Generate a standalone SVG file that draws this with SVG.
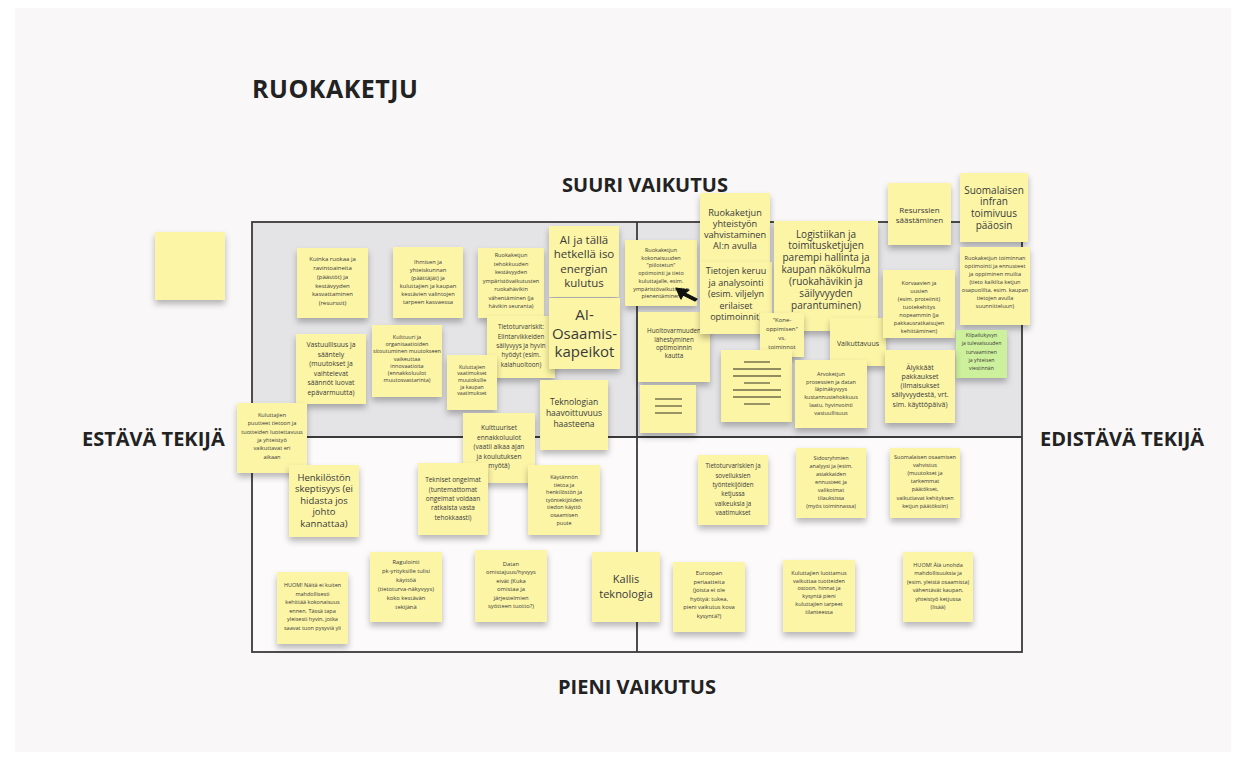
<svg xmlns="http://www.w3.org/2000/svg" width="1244" height="763" viewBox="0 0 1244 763">
<defs>
<filter id="sh" x="-20%" y="-20%" width="140%" height="150%">
<feDropShadow dx="0" dy="4" stdDeviation="3" flood-color="#000" flood-opacity="0.28"/>
</filter>
<style>
.s{fill:#fcf5a6;filter:url(#sh)}
.g{fill:#cdf09c;filter:url(#sh)}
.t{font-family:"Open Sans","Liberation Sans",sans-serif;fill:#3a3a3a;text-anchor:middle}
.hd{font-family:"Open Sans","Liberation Sans",sans-serif;font-weight:700;fill:#222}
.ln{stroke:#3a3a3a;stroke-width:1.8;fill:none}
.bar{stroke:#6e6a48;stroke-width:1.4}
</style>
</defs>
<rect width="1244" height="763" fill="#ffffff"/>
<rect x="15" y="8" width="1216" height="744" fill="#f9f7f7"/>

<g id="matrix">
<rect x="252" y="222" width="770" height="215" fill="#e4e4e7"/>
<rect x="252" y="437" width="770" height="215" fill="#fcfafa"/>
<rect class="ln" x="252" y="222" width="770" height="430"/>
<line class="ln" x1="637" y1="222" x2="637" y2="652"/>
<line class="ln" x1="252" y1="437" x2="1022" y2="437"/>
</g>

<g id="labels">
<text class="hd" x="252" y="98" font-size="25" letter-spacing="0.5">RUOKAKETJU</text>
<text class="hd" x="645" y="192" font-size="20" text-anchor="middle">SUURI VAIKUTUS</text>
<text class="hd" x="637" y="694" font-size="20" text-anchor="middle">PIENI VAIKUTUS</text>
<text class="hd" x="82" y="446" font-size="20">ESTÄVÄ TEKIJÄ</text>
<text class="hd" x="1040" y="446" font-size="20">EDISTÄVÄ TEKIJÄ</text>
</g>

<g id="n0"><rect class="s" x="155" y="232" width="70" height="68"/></g>

<g id="n1"><rect class="s" x="297" y="248" width="71" height="70"/>
<text class="t" font-size="6" x="332.5" y="261.4"><tspan x="332.5">Kuinka ruokaa ja</tspan><tspan x="332.5" dy="8.7">ravintoaineita</tspan><tspan x="332.5" dy="8.7">(päästöt) ja</tspan><tspan x="332.5" dy="8.7">kestävyyden</tspan><tspan x="332.5" dy="8.7">kasvattaminen</tspan><tspan x="332.5" dy="8.7">(resurssit)</tspan></text></g>

<g id="n2"><rect class="s" x="393" y="247" width="70" height="71"/>
<text class="t" font-size="5.8" x="428" y="263.8"><tspan x="428">Ihmisen ja</tspan><tspan x="428" dy="8">yhteiskunnan</tspan><tspan x="428" dy="8">(päättäjät) ja</tspan><tspan x="428" dy="8">kuluttajien ja kaupan</tspan><tspan x="428" dy="8">kestävien valintojen</tspan><tspan x="428" dy="8">tarpeen kasvaessa</tspan></text></g>

<g id="n3"><rect class="s" x="478" y="248" width="66" height="70"/>
<text class="t" font-size="5.6" x="511" y="257"><tspan x="511">Ruokaketjun</tspan><tspan x="511" dy="8.5">tehokkuuden</tspan><tspan x="511" dy="8.5">kestävyyden</tspan><tspan x="511" dy="8.5">ympäristövaikutusten</tspan><tspan x="511" dy="8.5">ruokahävikin</tspan><tspan x="511" dy="8.5">vähentäminen (ja</tspan><tspan x="511" dy="8.5">hävikin seuranta)</tspan></text></g>

<g id="n4"><rect class="s" x="549" y="226" width="70" height="71"/>
<text class="t" font-size="11.5" x="584" y="244"><tspan x="584">AI ja tällä</tspan><tspan x="584" dy="14.3">hetkellä iso</tspan><tspan x="584" dy="14.3">energian</tspan><tspan x="584" dy="14.3">kulutus</tspan></text></g>

<g id="n5"><rect class="s" x="625" y="240" width="72" height="66"/>
<text class="t" font-size="5.5" x="661" y="252"><tspan x="661">Ruokaketjun</tspan><tspan x="661" dy="7.7">kokonaisuuden</tspan><tspan x="661" dy="7.7">"piilotetun"</tspan><tspan x="661" dy="7.7">optimointi ja tieto</tspan><tspan x="661" dy="7.7">kuluttajalle, esim.</tspan><tspan x="661" dy="7.7">ympäristövaikutusten</tspan><tspan x="661" dy="7.7">pienentäminen</tspan></text></g>

<g id="n20"><rect class="s" x="638" y="312" width="72" height="70"/>
<text class="t" font-size="6.3" x="674" y="333.2"><tspan x="674">Huoltovarmuuden</tspan><tspan x="674" dy="8.3">lähestyminen</tspan><tspan x="674" dy="8.3">optimoinnin</tspan><tspan x="674" dy="8.3">kautta</tspan></text></g>

<g id="n6"><rect class="s" x="700" y="193" width="70" height="70"/>
<text class="t" font-size="9.2" x="735" y="215.5"><tspan x="735">Ruokaketjun</tspan><tspan x="735" dy="11.3">yhteistyön</tspan><tspan x="735" dy="11.3">vahvistaminen</tspan><tspan x="735" dy="11.3">AI:n avulla</tspan></text></g>

<g id="n7"><rect class="s" x="700" y="262" width="72" height="72"/>
<text class="t" font-size="9" x="736" y="274.3"><tspan x="736">Tietojen keruu</tspan><tspan x="736" dy="11.5">ja analysointi</tspan><tspan x="736" dy="11.5">(esim. viljelyn</tspan><tspan x="736" dy="11.5">erilaiset</tspan><tspan x="736" dy="11.5">optimoinnit)</tspan></text></g>

<g id="n8"><rect class="s" x="774" y="221" width="104" height="110"/>
<text class="t" font-size="10" x="826" y="237.5"><tspan x="826">Logistiikan ja</tspan><tspan x="826" dy="11.9">toimitusketjujen</tspan><tspan x="826" dy="11.9">parempi hallinta ja</tspan><tspan x="826" dy="11.9">kaupan näkökulma</tspan><tspan x="826" dy="11.9">(ruokahävikin ja</tspan><tspan x="826" dy="11.9">säilyvyyden</tspan><tspan x="826" dy="11.9">parantuminen)</tspan></text></g>

<g id="n14"><rect class="s" x="830" y="318" width="56" height="48"/>
<text class="t" font-size="7" x="858" y="345.5">Vaikuttavuus</text></g>

<g id="n16"><rect class="s" x="760" y="313" width="44" height="44"/>
<text class="t" font-size="6" x="782" y="322"><tspan x="782">"Kone-</tspan><tspan x="782" dy="9">oppimisen"</tspan><tspan x="782" dy="9">vs.</tspan><tspan x="782" dy="9">toiminnot</tspan></text></g>

<g id="n9"><rect class="s" x="888" y="183" width="63" height="62"/>
<text class="t" font-size="8" x="919.5" y="213.3"><tspan x="919.5">Resurssien</tspan><tspan x="919.5" dy="9.5">säästäminen</tspan></text></g>

<g id="n10"><rect class="s" x="960" y="173" width="68" height="69"/>
<text class="t" font-size="10" x="994" y="193.5"><tspan x="994">Suomalaisen</tspan><tspan x="994" dy="11.7">infran</tspan><tspan x="994" dy="11.7">toimivuus</tspan><tspan x="994" dy="11.7">pääosin</tspan></text></g>

<g id="n11"><rect class="s" x="960" y="247" width="70" height="78"/>
<text class="t" font-size="5.6" x="995" y="260"><tspan x="995">Ruokaketjun toiminnan</tspan><tspan x="995" dy="8">optimointi ja ennusteet</tspan><tspan x="995" dy="8">ja oppiminen muilta</tspan><tspan x="995" dy="8">(tieto kaikilta ketjun</tspan><tspan x="995" dy="8">osapuolilta, esim. kaupan</tspan><tspan x="995" dy="8">tietojen avulla</tspan><tspan x="995" dy="8">suunnitteluun)</tspan></text></g>

<g id="n12"><rect class="s" x="883" y="270" width="72" height="68"/>
<text class="t" font-size="5.6" x="919" y="285"><tspan x="919">Korvaavien ja</tspan><tspan x="919" dy="8">uusien</tspan><tspan x="919" dy="8">(esim. proteiinit)</tspan><tspan x="919" dy="8">tuotekehitys</tspan><tspan x="919" dy="8">nopeammin (ja</tspan><tspan x="919" dy="8">pakkausratkaisujen</tspan><tspan x="919" dy="8">kehittäminen)</tspan></text></g>

<g id="n13"><rect class="g" x="956" y="330" width="51" height="48"/>
<text class="t" font-size="5.2" x="981.5" y="337"><tspan x="981.5">Kilpailukyvyn</tspan><tspan x="981.5" dy="8.3">ja tulevaisuuden</tspan><tspan x="981.5" dy="8.3">turvaaminen</tspan><tspan x="981.5" dy="8.3">ja yhteisen</tspan><tspan x="981.5" dy="8.3">viestinnän</tspan></text></g>

<g id="n15"><rect class="s" x="885" y="350" width="70" height="73"/>
<text class="t" font-size="7" x="920" y="369.5"><tspan x="920">Älykkäät</tspan><tspan x="920" dy="9.3">pakkaukset</tspan><tspan x="920" dy="9.3">(ilmaisukset</tspan><tspan x="920" dy="9.3">säilyvyydestä, vrt.</tspan><tspan x="920" dy="9.3">sim. käyttöpäivä)</tspan></text></g>

<g id="n17"><rect class="s" x="721" y="350" width="71" height="72"/>
<line class="bar" x1="744" y1="362" x2="770" y2="362"/>
<line class="bar" x1="733" y1="369" x2="781" y2="369"/>
<line class="bar" x1="733" y1="376" x2="781" y2="376"/>
<line class="bar" x1="744" y1="383" x2="770" y2="383"/>
<line class="bar" x1="733" y1="390" x2="781" y2="390"/>
<line class="bar" x1="733" y1="397" x2="781" y2="397"/>
<line class="bar" x1="744" y1="404" x2="770" y2="404"/></g>

<g id="n18"><rect class="s" x="640" y="385" width="56" height="48"/>
<line class="bar" x1="655" y1="399" x2="682" y2="399"/>
<line class="bar" x1="655" y1="406" x2="682" y2="406"/>
<line class="bar" x1="655" y1="413" x2="682" y2="413"/></g>

<g id="n19"><rect class="s" x="795" y="360" width="72" height="68"/>
<text class="t" font-size="5.5" x="831" y="376"><tspan x="831">Arvoketjun</tspan><tspan x="831" dy="7.7">prosessien ja datan</tspan><tspan x="831" dy="7.7">läpinäkyvyys</tspan><tspan x="831" dy="7.7">kustannustehokkuus</tspan><tspan x="831" dy="7.7">laatu, hyvinvointi</tspan><tspan x="831" dy="7.7">vastuullisuus</tspan></text></g>

<g id="n21"><rect class="s" x="487" y="316" width="68" height="62"/>
<text class="t" font-size="6.3" x="521" y="329.3"><tspan x="521">Tietoturvariskit:</tspan><tspan x="521" dy="9.3">Elintarvikkeiden</tspan><tspan x="521" dy="9.3">säilyvyys ja hyvin</tspan><tspan x="521" dy="9.3">hyödyt (esim.</tspan><tspan x="521" dy="9.3">kalahuoltoon)</tspan></text></g>

<g id="n22"><rect class="s" x="549" y="298" width="71" height="71"/>
<text class="t" font-size="15" x="584.5" y="320.3"><tspan x="584.5">AI-</tspan><tspan x="584.5" dy="18.3">Osaamis-</tspan><tspan x="584.5" dy="18.3">kapeikot</tspan></text></g>

<g id="n23"><rect class="s" x="296" y="334" width="70" height="70"/>
<text class="t" font-size="6.8" x="331" y="347.4"><tspan x="331">Vastuullisuus ja</tspan><tspan x="331" dy="9.5">sääntely</tspan><tspan x="331" dy="9.5">(muutokset ja</tspan><tspan x="331" dy="9.5">vaihtelevat</tspan><tspan x="331" dy="9.5">säännöt luovat</tspan><tspan x="331" dy="9.5">epävarmuutta)</tspan></text></g>

<g id="n24"><rect class="s" x="372" y="325" width="70" height="72"/>
<text class="t" font-size="5.5" x="407" y="339"><tspan x="407">Kulttuuri ja</tspan><tspan x="407" dy="7.2">organisaatioiden</tspan><tspan x="407" dy="7.2">sitoutuminen muutokseen</tspan><tspan x="407" dy="7.2">vaikeuttaa</tspan><tspan x="407" dy="7.2">innovaatioita</tspan><tspan x="407" dy="7.2">(ennakkoluulot</tspan><tspan x="407" dy="7.2">muutosvastarinta)</tspan></text></g>

<g id="n25"><rect class="s" x="447" y="355" width="50" height="55"/>
<text class="t" font-size="5.2" x="472" y="368.8"><tspan x="472">Kuluttajien</tspan><tspan x="472" dy="6.6">vaatimukset</tspan><tspan x="472" dy="6.6">muutoksille</tspan><tspan x="472" dy="6.6">ja kaupan</tspan><tspan x="472" dy="6.6">vaatimukset</tspan></text></g>

<g id="n26"><rect class="s" x="540" y="380" width="68" height="70"/>
<text class="t" font-size="8.5" x="574" y="405"><tspan x="574">Teknologian</tspan><tspan x="574" dy="11">haavoittuvuus</tspan><tspan x="574" dy="11">haasteena</tspan></text></g>

<g id="n27"><rect class="s" x="237" y="403" width="70" height="70"/>
<text class="t" font-size="5.6" x="272" y="417"><tspan x="272">Kuluttajien</tspan><tspan x="272" dy="8.3">puutteet tietoon ja</tspan><tspan x="272" dy="8.3">tuotteiden luotettavuus</tspan><tspan x="272" dy="8.3">ja yhteistyö</tspan><tspan x="272" dy="8.3">vaikuttavat eri</tspan><tspan x="272" dy="8.3">aikaan</tspan></text></g>

<g id="n28"><rect class="s" x="463" y="413" width="72" height="70"/>
<text class="t" font-size="6.6" x="499" y="430.4"><tspan x="499">Kulttuuriset</tspan><tspan x="499" dy="9.5">ennakkoluulot</tspan><tspan x="499" dy="9.5">(vaatii aikaa ajan</tspan><tspan x="499" dy="9.5">ja koulutuksen</tspan><tspan x="499" dy="9.5">myötä)</tspan></text></g>

<g id="n29"><rect class="s" x="289" y="465" width="70" height="72"/>
<text class="t" font-size="9.5" x="324" y="480.5"><tspan x="324">Henkilöstön</tspan><tspan x="324" dy="11.6">skeptisyys (ei</tspan><tspan x="324" dy="11.6">hidasta jos</tspan><tspan x="324" dy="11.6">johto</tspan><tspan x="324" dy="11.6">kannattaa)</tspan></text></g>

<g id="n30"><rect class="s" x="418" y="463" width="70" height="72"/>
<text class="t" font-size="6.5" x="453" y="482.3"><tspan x="453">Tekniset ongelmat</tspan><tspan x="453" dy="9.3">(tuntemattomat</tspan><tspan x="453" dy="9.3">ongelmat voidaan</tspan><tspan x="453" dy="9.3">ratkaista vasta</tspan><tspan x="453" dy="9.3">tehokkaasti)</tspan></text></g>

<g id="n31"><rect class="s" x="528" y="465" width="72" height="70"/>
<text class="t" font-size="5.5" x="564" y="479"><tspan x="564">Käytännön</tspan><tspan x="564" dy="7.6">tietoa ja</tspan><tspan x="564" dy="7.6">henkilöstön ja</tspan><tspan x="564" dy="7.6">työntekijöiden</tspan><tspan x="564" dy="7.6">tiedon käyttö</tspan><tspan x="564" dy="7.6">osaamisen</tspan><tspan x="564" dy="7.6">puute</tspan></text></g>

<g id="n32"><rect class="s" x="698" y="455" width="70" height="70"/>
<text class="t" font-size="6.2" x="733" y="468.2"><tspan x="733">Tietoturvariskien ja</tspan><tspan x="733" dy="9.4">sovelluksien</tspan><tspan x="733" dy="9.4">työntekijöiden</tspan><tspan x="733" dy="9.4">ketjussa</tspan><tspan x="733" dy="9.4">vaikeuksia ja</tspan><tspan x="733" dy="9.4">vaatimukset</tspan></text></g>

<g id="n33"><rect class="s" x="796" y="448" width="70" height="70"/>
<text class="t" font-size="5.5" x="831" y="460"><tspan x="831">Sidosryhmien</tspan><tspan x="831" dy="8">analyysi ja (esim.</tspan><tspan x="831" dy="8">asiakkaiden</tspan><tspan x="831" dy="8">ennusteet ja</tspan><tspan x="831" dy="8">valikoimat</tspan><tspan x="831" dy="8">tilauksissa</tspan><tspan x="831" dy="8">(myös toiminnassa)</tspan></text></g>

<g id="n34"><rect class="s" x="890" y="448" width="70" height="70"/>
<text class="t" font-size="5.5" x="925" y="459"><tspan x="925">Suomalaisen osaamisen</tspan><tspan x="925" dy="8.1">vahvistus</tspan><tspan x="925" dy="8.1">(muutokset ja</tspan><tspan x="925" dy="8.1">tarkemmat</tspan><tspan x="925" dy="8.1">päätökset,</tspan><tspan x="925" dy="8.1">vaikuttavat kehityksen</tspan><tspan x="925" dy="8.1">ketjun päätöksiin)</tspan></text></g>

<g id="n35"><rect class="s" x="277" y="572" width="71" height="72"/>
<text class="t" font-size="5.5" x="312.5" y="587"><tspan x="312.5">HUOM! Näitä ei kuiten</tspan><tspan x="312.5" dy="8.5">mahdollisesti</tspan><tspan x="312.5" dy="8.5">kehittää kokonaisuus</tspan><tspan x="312.5" dy="8.5">ennen. Tässä tapa</tspan><tspan x="312.5" dy="8.5">yleisesti hyvin, jotka</tspan><tspan x="312.5" dy="8.5">saavat tuon pysyviä yli</tspan></text></g>

<g id="n36"><rect class="s" x="370" y="552" width="72" height="70"/>
<text class="t" font-size="5.8" x="406" y="564"><tspan x="406">Ragulointi</tspan><tspan x="406" dy="9">pk-yrityksille tulisi</tspan><tspan x="406" dy="9">käyttöä</tspan><tspan x="406" dy="9">(tietoturva-näkyvyys)</tspan><tspan x="406" dy="9">koko kestävän</tspan><tspan x="406" dy="9">tekijänä</tspan></text></g>

<g id="n37"><rect class="s" x="475" y="550" width="72" height="72"/>
<text class="t" font-size="5.8" x="511" y="566"><tspan x="511">Datan</tspan><tspan x="511" dy="8.4">omistajuus/hyvyys</tspan><tspan x="511" dy="8.4">eivät (Kuka</tspan><tspan x="511" dy="8.4">omistaa ja</tspan><tspan x="511" dy="8.4">järjestelmien</tspan><tspan x="511" dy="8.4">syötteen tuotto?)</tspan></text></g>

<g id="n38"><rect class="s" x="592" y="552" width="68" height="70"/>
<text class="t" font-size="11" x="626" y="583"><tspan x="626">Kallis</tspan><tspan x="626" dy="14.7">teknologia</tspan></text></g>

<g id="n39"><rect class="s" x="673" y="562" width="72" height="70"/>
<text class="t" font-size="5.8" x="709" y="575"><tspan x="709">Euroopan</tspan><tspan x="709" dy="8.6">periaatteita</tspan><tspan x="709" dy="8.6">(joista ei ole</tspan><tspan x="709" dy="8.6">hyötyä: tukea,</tspan><tspan x="709" dy="8.6">pieni vaikutus kova</tspan><tspan x="709" dy="8.6">kysyntä?)</tspan></text></g>

<g id="n40"><rect class="s" x="783" y="560" width="72" height="72"/>
<text class="t" font-size="5.5" x="819" y="575"><tspan x="819">Kuluttajien luottamus</tspan><tspan x="819" dy="7.7">vaikuttaa tuotteiden</tspan><tspan x="819" dy="7.7">ostoon, hinnat ja</tspan><tspan x="819" dy="7.7">kysyntä pieni</tspan><tspan x="819" dy="7.7">kuluttajien tarpeet</tspan><tspan x="819" dy="7.7">tilanteessa</tspan></text></g>

<g id="n41"><rect class="s" x="903" y="552" width="70" height="70"/>
<text class="t" font-size="5.5" x="938" y="567"><tspan x="938">HUOM! Älä unohda</tspan><tspan x="938" dy="8.4">mahdollisuuksia ja</tspan><tspan x="938" dy="8.4">(esim. yleistä osaamista)</tspan><tspan x="938" dy="8.4">vähentävät kaupan,</tspan><tspan x="938" dy="8.4">yhteistyö ketjussa</tspan><tspan x="938" dy="8.4">(lisää)</tspan></text></g>

<g id="cursor">
<path d="M676 288 L689 290 L685 293 L697 299 L695 301 L683 295 L681 299 Z" fill="#111" stroke="#111" stroke-width="1.2" stroke-linejoin="round"/>
</g>
</svg>
